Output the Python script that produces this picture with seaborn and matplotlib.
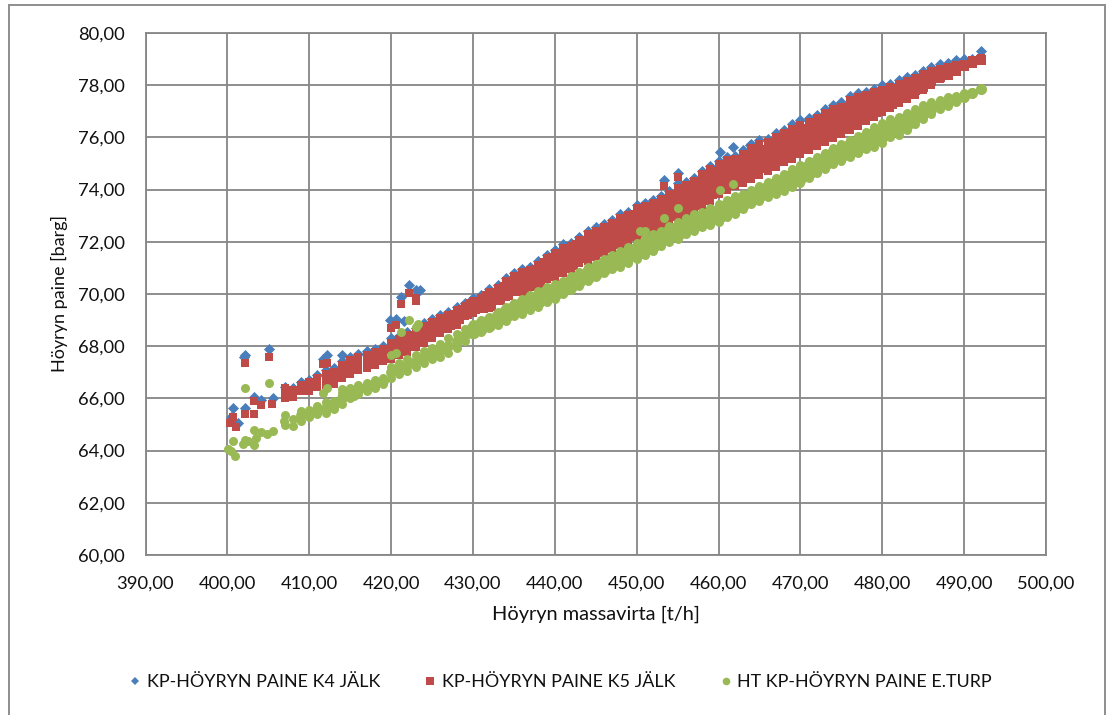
import matplotlib
matplotlib.use("Agg")
import matplotlib.pyplot as plt
from matplotlib.patches import Rectangle
from matplotlib.lines import Line2D
import seaborn as sns

SERIES_NAMES = ["KP-HÖYRYN PAINE K4 JÄLK", "KP-HÖYRYN PAINE K5 JÄLK", "HT KP-HÖYRYN PAINE E.TURP"]
X_TICKS = [390, 400, 410, 420, 430, 440, 450, 460, 470, 480, 490, 500]
Y_TICKS = [60, 62, 64, 66, 68, 70, 72, 74, 76, 78, 80]

X_FULL = list(range(407, 493))
X_DENSE = list(range(430, 493))
X_EARLY = list(range(409, 430))

K4_EDGE = [66.45,66.40,66.63,66.70,66.90,67.10,67.15,67.45,67.60,67.70,
           67.80,67.90,68.00,68.30,68.40,68.55,68.70,68.90,69.05,69.20,
           69.30,69.50,69.65,69.85,69.95,70.20,70.35,70.60,70.80,70.95,
           71.05,71.25,71.50,71.70,71.90,71.95,72.20,72.40,72.55,72.70,
           72.85,73.05,73.15,73.40,73.50,73.60,73.75,73.95,74.25,74.30,
           74.45,74.70,74.90,75.10,75.25,75.30,75.50,75.75,75.90,75.95,
           76.15,76.30,76.50,76.65,76.75,76.85,77.10,77.25,77.35,77.60,
           77.70,77.75,77.85,78.00,78.05,78.20,78.30,78.40,78.55,78.70,
           78.80,78.85,78.95,79.00,79.00,79.30]
K4_OUT_X = [400.4,400.66,401.3,402.1,402.2,402.0,403.3,404.1,405.1,405.6,
            411.7,412.2,414.0,419.9,420.6,421.2,421.6,422.2,423.1,423.5,
            453.3,455.1,460.2,461.8,463.8]
K4_OUT_Y = [65.30,65.62,65.05,67.67,65.65,67.60,66.05,65.95,67.88,66.00,
            67.50,67.65,67.65,69.00,69.05,69.90,68.95,70.35,70.15,70.15,
            74.35,74.65,75.45,75.65,75.70]

K5_TOP = [66.38,66.33,66.53,66.63,66.78,66.93,67.03,67.28,67.48,67.58,
          67.68,67.78,67.88,68.13,68.28,68.43,68.58,68.78,68.93,69.08,
          69.18,69.38,69.53,69.73,69.83,70.08,70.23,70.48,70.68,70.83,
          70.93,71.13,71.38,71.58,71.78,71.83,72.08,72.28,72.43,72.58,
          72.73,72.93,73.03,73.28,73.38,73.48,73.63,73.83,74.08,74.18,
          74.33,74.58,74.78,74.98,75.13,75.18,75.38,75.58,75.73,75.83,
          76.03,76.18,76.33,76.48,76.58,76.73,76.93,77.08,77.18,77.43,
          77.53,77.63,77.73,77.83,77.93,78.03,78.18,78.28,78.43,78.53,
          78.63,78.68,78.78,78.83,78.88,79.05]
K5_MID = [66.20,66.20,66.40,66.45,66.60,66.75,66.80,67.05,67.20,67.30,
          67.40,67.50,67.65,67.85,68.00,68.10,68.30,68.45,68.65,68.80,
          68.90,69.10,69.30,69.55,69.60,69.85,69.95,70.20,70.40,70.55,
          70.65,70.85,71.10,71.30,71.45,71.55,71.80,71.95,72.10,72.25,
          72.40,72.60,72.70,72.95,73.05,73.15,73.30,73.50,73.70,73.85,
          74.00,74.20,74.40,74.60,74.75,74.85,75.00,75.20,75.35,75.45,
          75.65,75.80,75.95,76.10,76.25,76.40,76.60,76.75,76.85,77.05,
          77.20,77.35,77.45,77.60,77.70,77.85,78.00,78.10,78.25,78.40,
          78.50,78.60,78.70,78.80,78.90,79.00]
K5_LOWMID = [69.50,69.55,69.60,69.85,70.05,70.25,70.25,
             70.40,70.55,70.75,70.95,71.10,71.20,71.45,71.55,71.75,71.85,
             72.00,72.20,72.30,72.50,72.65,72.75,72.90,73.05,73.30,73.45,
             73.55,73.75,73.90,74.15,74.30,74.40,74.55,74.75,74.90,75.05,
             75.20,75.35,75.50,75.65,75.80,75.95,76.15,76.30,76.40,76.60,
             76.75,76.90,77.05,77.25,77.35,77.50,77.65,77.80,77.95,78.15,
             78.30,78.40,78.55,78.75,78.85,78.95]
K5_BOTTOM = [66.02,66.07,66.27,66.27,66.42,66.52,66.57,66.77,66.92,67.07,
             67.17,67.27,67.42,67.52,67.67,67.77,67.97,68.12,68.32,68.52,
             68.67,68.82,69.17,69.27,69.42,69.47,69.72,69.87,70.07,70.07,
             70.27,70.37,70.57,70.67,70.82,70.97,71.17,71.27,71.47,71.57,
             71.72,71.87,71.97,72.12,72.32,72.47,72.62,72.72,72.97,73.12,
             73.17,73.37,73.57,73.82,73.97,74.12,74.27,74.42,74.57,74.72,
             74.87,75.07,75.17,75.37,75.52,75.67,75.82,75.97,76.12,76.27,
             76.42,76.62,76.77,76.97,77.12,77.32,77.47,77.62,77.82,78.02,
             78.22,78.42,78.62,78.82,78.95,79.05]
K5_OUT_X = [400.3,400.7,401.1,400.6,402.1,402.1,403.3,403.3,404.1,405.1,405.5,
            411.7,412.2,421.2,422.2,423.0,423.1,453.3,455.1,420.0,420.6]
K5_OUT_Y = [65.05,65.30,64.90,65.10,67.37,65.40,65.90,65.40,65.75,67.60,65.80,
            67.30,67.35,69.60,70.05,69.85,69.75,74.15,74.50,68.70,68.80]

TURB_TOP = [65.35,65.20,65.50,65.55,65.70,65.85,65.90,66.20,66.40,66.50,
            66.60,66.70,66.80,67.20,67.35,67.50,67.65,67.80,67.95,68.10,
            68.30,68.45,68.65,68.85,69.00,69.10,69.30,69.50,69.65,69.80,
            69.95,70.10,70.25,70.40,70.50,70.70,70.85,71.05,71.15,71.35,
            71.50,71.65,71.80,71.95,72.15,72.30,72.40,72.60,72.75,72.90,
            73.05,73.15,73.30,73.45,73.60,73.75,73.85,74.00,74.15,74.30,
            74.45,74.60,74.80,74.95,75.10,75.25,75.40,75.60,75.75,75.90,
            76.05,76.20,76.40,76.55,76.70,76.80,76.95,77.10,77.25,77.35,
            77.45,77.55,77.60,77.70,77.75,77.85]
TURB_EARLY = [65.35,65.42,65.55,65.65,65.75,66.00,66.20,66.32,66.45,66.55,
              66.68,67.00,67.15,67.28,67.42,67.58,67.72,67.85,68.02,68.20,68.42]
TURB_MID1 = [68.70,68.85,68.95,69.15,69.35,69.50,69.65,
             69.80,69.90,70.10,70.20,70.35,70.50,70.70,70.85,71.00,71.20,
             71.35,71.45,71.60,71.75,71.95,72.10,72.25,72.40,72.55,72.70,
             72.85,72.95,73.10,73.20,73.40,73.55,73.65,73.80,73.95,74.10,
             74.25,74.40,74.55,74.70,74.90,75.05,75.20,75.40,75.55,75.70,
             75.85,76.00,76.15,76.30,76.45,76.60,76.75,76.90,77.05,77.20,
             77.30,77.40,77.50,77.60,77.72,77.86]
TURB_MID2 = [68.55,68.70,68.80,69.00,69.15,69.30,69.45,
             69.60,69.70,69.90,70.00,70.15,70.30,70.50,70.65,70.80,70.95,
             71.15,71.25,71.40,71.55,71.70,71.85,72.05,72.20,72.30,72.50,
             72.60,72.75,72.85,72.95,73.15,73.30,73.45,73.60,73.75,73.90,
             74.05,74.15,74.30,74.45,74.65,74.85,75.00,75.20,75.30,75.45,
             75.60,75.75,75.90,76.05,76.20,76.35,76.50,76.70,76.85,77.05,
             77.20,77.30,77.42,77.55,77.72,77.85]
TURB_BOTTOM = [65.00,64.95,65.15,65.30,65.40,65.45,65.60,65.80,66.00,66.15,
               66.30,66.40,66.55,66.80,66.95,67.05,67.20,67.35,67.50,67.60,
               67.75,67.95,68.20,68.45,68.55,68.70,68.80,68.95,69.15,69.25,
               69.40,69.50,69.70,69.80,70.00,70.15,70.30,70.50,70.65,70.80,
               70.95,71.05,71.20,71.35,71.50,71.65,71.85,72.00,72.10,72.30,
               72.40,72.55,72.65,72.75,72.95,73.05,73.25,73.45,73.55,73.70,
               73.85,73.95,74.10,74.25,74.45,74.65,74.80,75.00,75.10,75.25,
               75.40,75.55,75.65,75.80,76.00,76.10,76.30,76.50,76.70,76.90,
               77.10,77.20,77.35,77.50,77.70,77.85]
TURB_OUT_X = [400.1,400.5,400.7,400.9,401.9,402.1,402.1,402.5,403.3,403.3,403.5,404.1,404.9,405.1,405.6,
              406.9,411.7,412.2,414.0,415.5,420.0,420.6,421.2,422.2,423.0,423.3,
              450.4,451.0,453.3,455.1,460.2,461.8]
TURB_OUT_Y = [64.05,64.00,64.35,63.80,64.25,64.40,66.40,64.35,64.20,64.80,64.50,64.70,64.65,66.60,64.75,
              65.15,66.20,66.40,66.35,66.10,67.65,67.75,68.55,69.00,68.75,68.85,
              72.40,72.40,72.90,73.30,74.00,74.20]

BLUE, RED, GREEN = "#4A7EBB", "#BE4B48", "#98B954"
GRID = "#868686"
INK = "#111111"

sns.set_theme(style="white")
plt.rcParams["font.family"] = ["Lato", "DejaVu Sans"]

W, H = 1106, 715
fig = plt.figure(figsize=(W / 100, H / 100), dpi=100, facecolor="white")
fig.add_artist(Rectangle((8.5 / W, -0.05), 1096 / W, 1.05 - 5 / H, transform=fig.transFigure,
                         fill=False, edgecolor="#8E8E8E", linewidth=1.4))
ax = fig.add_axes([145.5 / W, 1 - 555 / H, 900.5 / W, 522 / H])


def draw(xs, ys, color, marker, size):
    sns.scatterplot(x=xs, y=ys, color=color, marker=marker, s=size, linewidth=0,
                    ax=ax, zorder=3, legend=False, clip_on=False)


# Blue first, then red and green over it, as in the reference.
draw(X_FULL + K4_OUT_X, K4_EDGE + K4_OUT_Y, BLUE, "D", 32)

# The bands are solid in the reference, so the inner rows of the thick stretch are drawn wider.
draw(X_FULL[14:74], K5_MID[14:74], RED, "s", 110)
draw(X_DENSE[:52], K5_LOWMID[:52], RED, "s", 110)
draw(X_FULL[74:82], K5_MID[74:82], RED, "s", 60)
draw(X_DENSE[52:], K5_LOWMID[52:], RED, "s", 60)
draw(X_FULL + X_FULL + K5_OUT_X, K5_TOP + K5_BOTTOM + K5_OUT_Y, RED, "s", 36)
draw(X_FULL[:14] + X_FULL[82:], K5_MID[:14] + K5_MID[82:], RED, "s", 36)

draw(X_DENSE[:54], TURB_MID1[:54], GREEN, "o", 95)
draw(X_DENSE[:54], TURB_MID2[:54], GREEN, "o", 95)
draw(X_DENSE[54:] + X_DENSE[54:], TURB_MID1[54:] + TURB_MID2[54:], GREEN, "o", 60)
draw(X_EARLY, TURB_EARLY, GREEN, "o", 60)
draw(X_FULL + X_FULL + TURB_OUT_X, TURB_TOP + TURB_BOTTOM + TURB_OUT_Y, GREEN, "o", 42)

ax.set_xlim(390, 500)
ax.set_ylim(60, 80)
ax.set_xticks(X_TICKS)
ax.set_yticks(Y_TICKS)
ax.set_xticklabels([f"{v},00" for v in X_TICKS], fontsize=13.2, color=INK)
ax.set_yticklabels([f"{v},00" for v in Y_TICKS], fontsize=13.2, color=INK)
ax.tick_params(length=0, pad=15)
ax.grid(True, color=GRID, linewidth=1.3)
ax.set_axisbelow(True)
for sp in ax.spines.values():
    sp.set_color(GRID)
    sp.set_linewidth(1.3)
ax.set_xlabel("Höyryn massavirta [t/h]", fontsize=14.4, color=INK, labelpad=10)
ax.set_ylabel("Höyryn paine [barg]", fontsize=13, color=INK, labelpad=7)

handles = [Line2D([], [], linestyle="none", marker=m, color=c, markersize=ms, markeredgewidth=0)
           for m, c, ms in zip(["D", "s", "o"], [BLUE, RED, GREEN], [4.5, 5.5, 5.5])]
fig.legend(handles, SERIES_NAMES, loc="center", bbox_to_anchor=(561 / W, 1 - 682 / H), ncol=3,
           frameon=False, fontsize=12.9, columnspacing=2.5, handlelength=0.6, handletextpad=0.35,
           labelcolor=INK)
fig.savefig("out.png", dpi=100)
